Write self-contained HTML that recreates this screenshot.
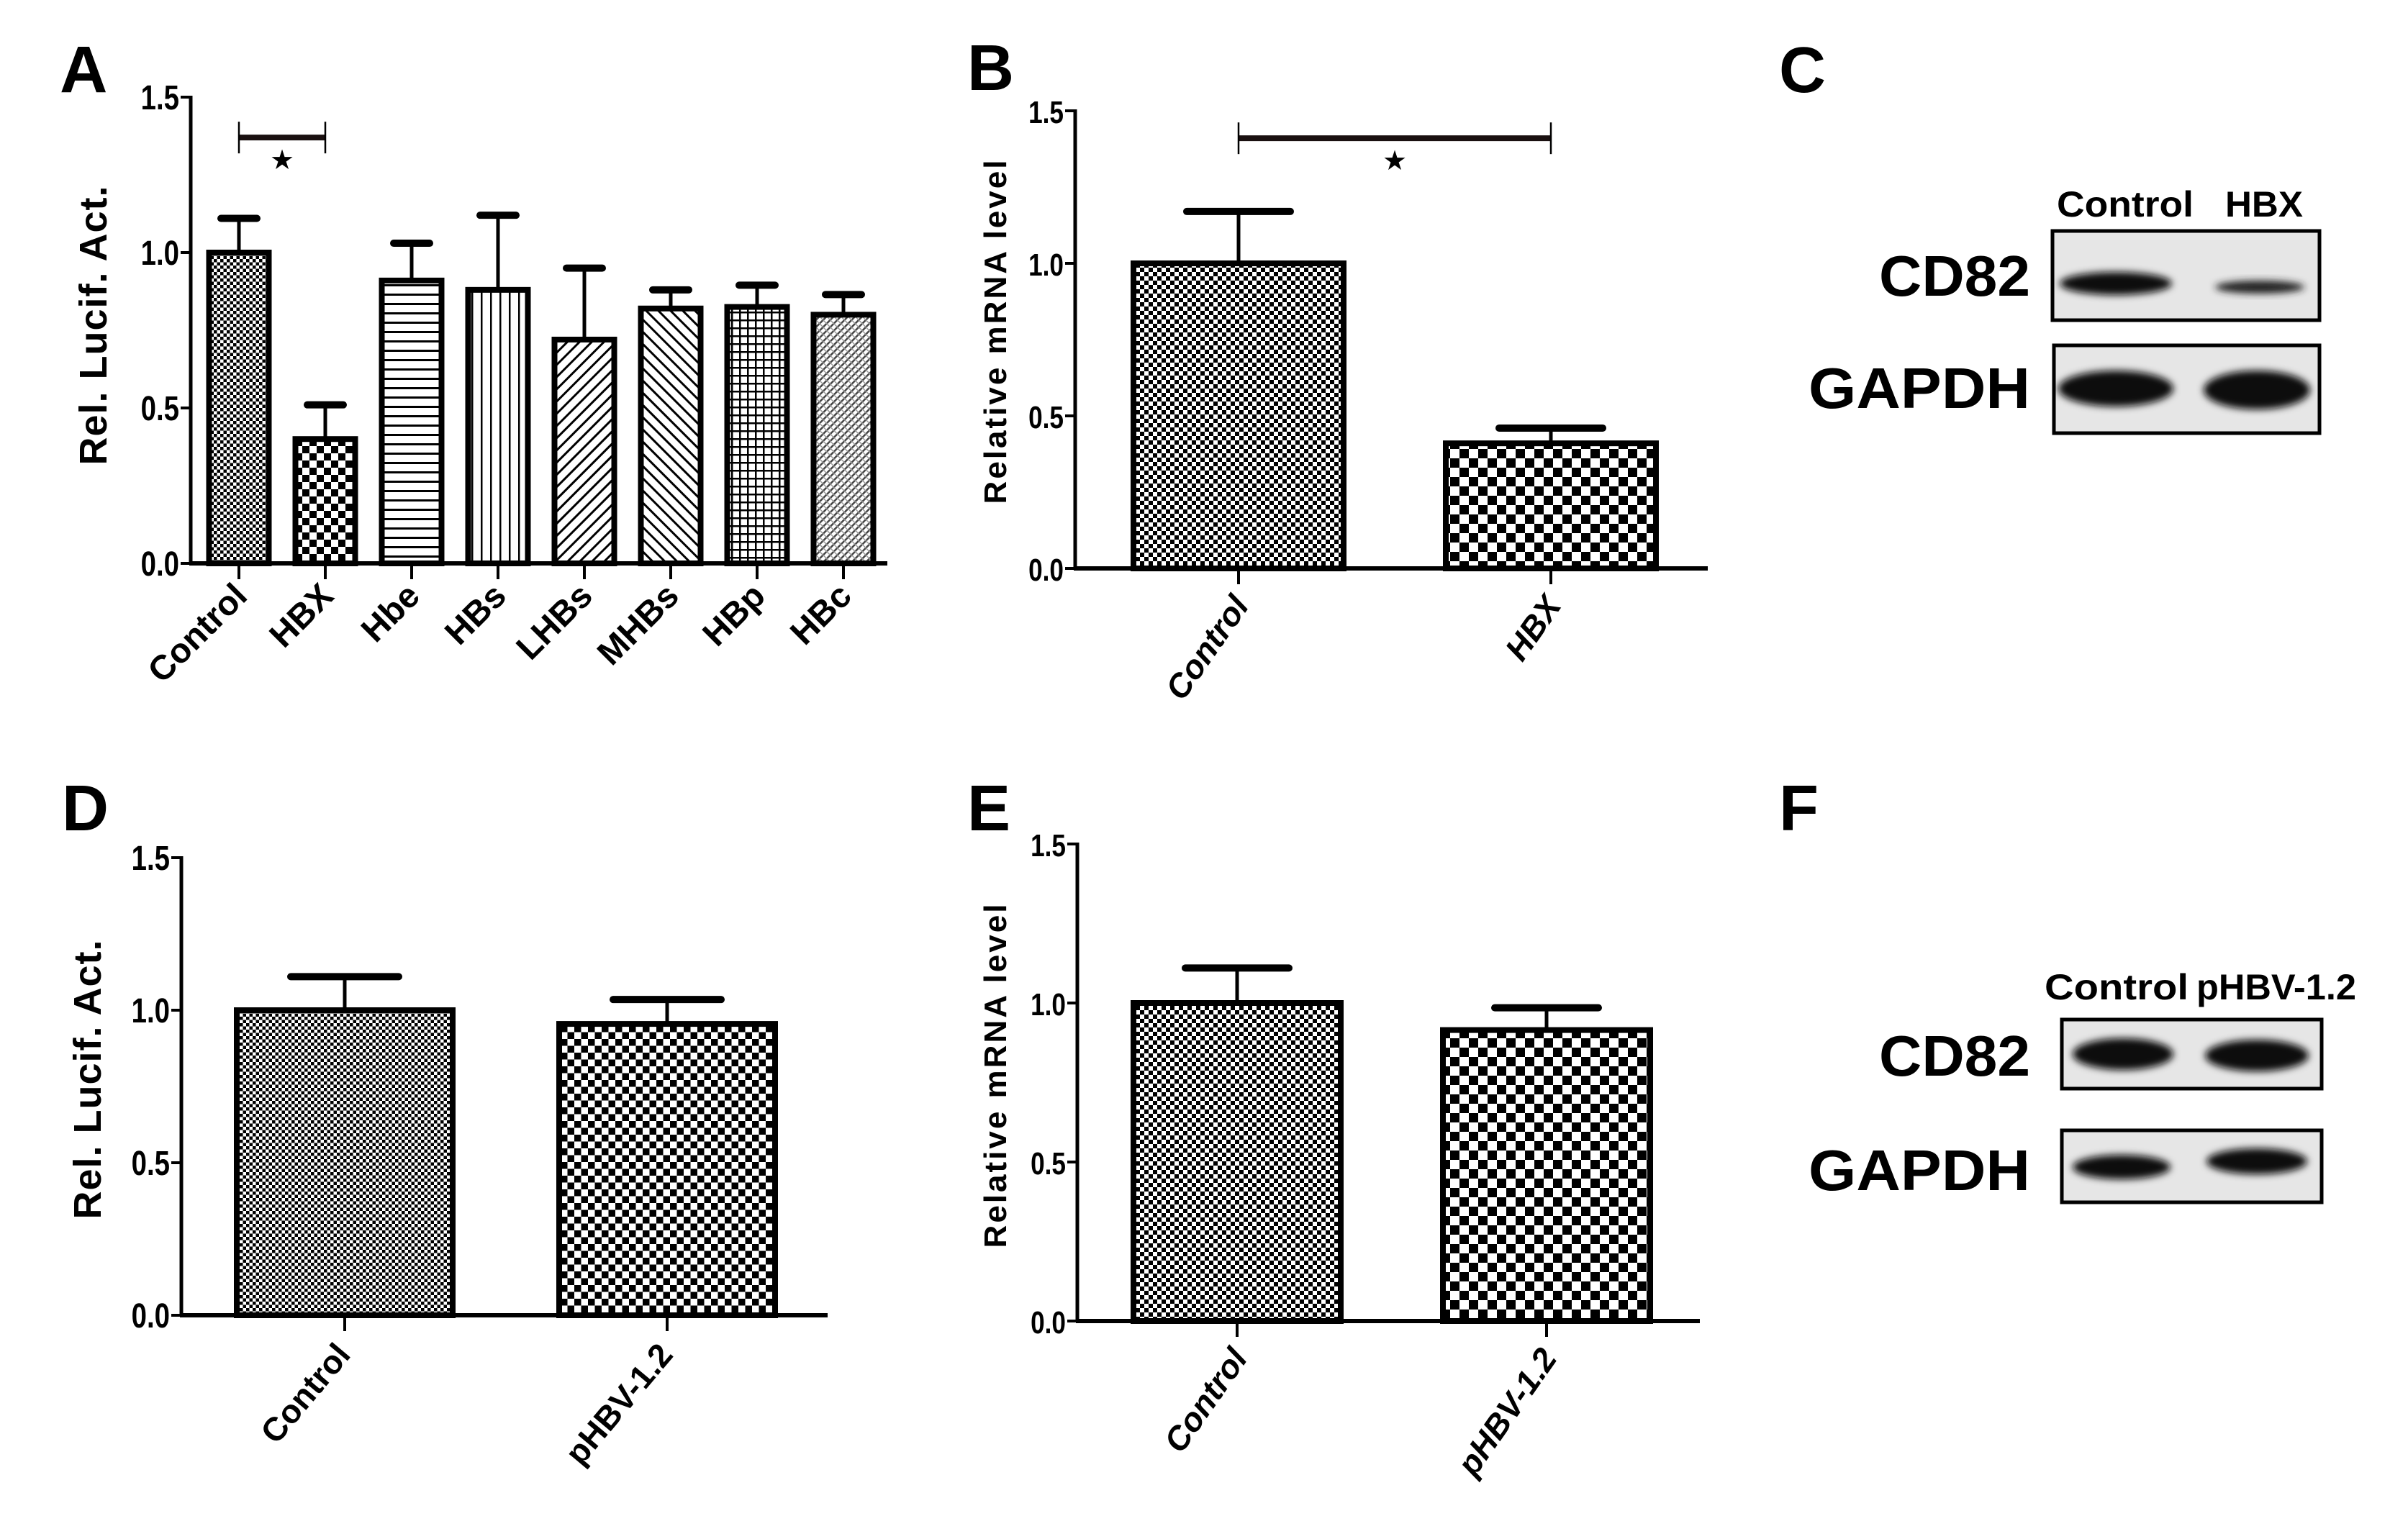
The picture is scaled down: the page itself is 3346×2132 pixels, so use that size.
<!DOCTYPE html>
<html><head><meta charset="utf-8"><style>
html,body{margin:0;padding:0;background:#fff}
svg{display:block}
text{font-family:"Liberation Sans",Arial,sans-serif;fill:#000}
</style></head><body>
<svg id="fig" xmlns="http://www.w3.org/2000/svg" width="3346" height="2132" viewBox="0 0 3346 2132">
<defs>
<pattern id="pFine" width="9" height="9" patternUnits="userSpaceOnUse"><rect width="9" height="9" fill="#fff"/><rect width="4.5" height="4.5" fill="#000"/><rect x="4.5" y="4.5" width="4.5" height="4.5" fill="#000"/></pattern>
<pattern id="pFine2" width="12" height="12" patternUnits="userSpaceOnUse"><rect width="12" height="12" fill="#fff"/><rect width="6" height="6" fill="#000"/><rect x="6" y="6" width="6" height="6" fill="#000"/></pattern>
<pattern id="pBig" width="20" height="20" patternUnits="userSpaceOnUse"><rect width="20" height="20" fill="#fff"/><rect width="10" height="10" fill="#000"/><rect x="10" y="10" width="10" height="10" fill="#000"/></pattern>
<pattern id="pBig2" width="26" height="26" patternUnits="userSpaceOnUse"><rect width="26" height="26" fill="#fff"/><rect width="13" height="13" fill="#000"/><rect x="13" y="13" width="13" height="13" fill="#000"/></pattern>
<pattern id="pMid" width="19" height="19" patternUnits="userSpaceOnUse"><rect width="19" height="19" fill="#fff"/><rect width="9.5" height="9.5" fill="#000"/><rect x="9.5" y="9.5" width="9.5" height="9.5" fill="#000"/></pattern>
<pattern id="pH" width="13" height="13" patternUnits="userSpaceOnUse"><rect width="13" height="13" fill="#fff"/><rect y="5" width="13" height="3" fill="#000"/></pattern>
<pattern id="pV" width="13" height="13" patternUnits="userSpaceOnUse"><rect width="13" height="13" fill="#fff"/><rect x="5" width="2.5" height="13" fill="#000"/></pattern>
<pattern id="pD1" width="12" height="12" patternUnits="userSpaceOnUse" patternTransform="rotate(45)"><rect width="12" height="12" fill="#fff"/><rect x="4" width="3" height="12" fill="#000"/></pattern>
<pattern id="pD2" width="12" height="12" patternUnits="userSpaceOnUse" patternTransform="rotate(-45)"><rect width="12" height="12" fill="#fff"/><rect x="4" width="3" height="12" fill="#000"/></pattern>
<pattern id="pGrid" width="11" height="11" patternUnits="userSpaceOnUse"><rect width="11" height="11" fill="#fff"/><rect y="4" width="11" height="2.5" fill="#000"/><rect x="4" width="2.5" height="11" fill="#000"/></pattern>
<pattern id="pD3" width="7" height="7" patternUnits="userSpaceOnUse" patternTransform="rotate(45)"><rect width="7" height="7" fill="#fff"/><rect x="2" width="2.5" height="7" fill="#444"/><rect y="2" width="7" height="1.5" fill="#999"/></pattern>
<filter id="blur" x="-20%" y="-50%" width="140%" height="200%"><feGaussianBlur stdDeviation="5"/></filter>
</defs>

<text x="83" y="128" font-size="92" font-weight="bold">A</text>
<text x="1344" y="125" font-size="90" font-weight="bold">B</text>
<text x="2472" y="128" font-size="90" font-weight="bold">C</text>
<text x="86" y="1154" font-size="90" font-weight="bold">D</text>
<text x="1344" y="1154" font-size="90" font-weight="bold">E</text>
<text x="2472" y="1154" font-size="90" font-weight="bold">F</text>

<g>
<text x="2858" y="301" font-size="50" font-weight="bold" textLength="190" lengthAdjust="spacingAndGlyphs">Control</text>
<text x="3092" y="301" font-size="50" font-weight="bold" textLength="108" lengthAdjust="spacingAndGlyphs">HBX</text>
<text x="2611" y="411" font-size="80" font-weight="bold" textLength="210" lengthAdjust="spacingAndGlyphs">CD82</text>
<text x="2513" y="567" font-size="80" font-weight="bold" textLength="308" lengthAdjust="spacingAndGlyphs">GAPDH</text>
<rect x="2852" y="321" width="371" height="124" fill="#e6e6e6" stroke="#000" stroke-width="5"/>
<ellipse cx="2940" cy="394" rx="78" ry="16" fill="#111" filter="url(#blur)"/>
<ellipse cx="3140" cy="399" rx="62" ry="9" fill="#222" filter="url(#blur)"/>
<rect x="2854" y="480" width="369" height="122" fill="#e6e6e6" stroke="#000" stroke-width="5"/>
<ellipse cx="2940" cy="540" rx="80" ry="25" fill="#0a0a0a" filter="url(#blur)"/>
<ellipse cx="3136" cy="542" rx="74" ry="27" fill="#0a0a0a" filter="url(#blur)"/>
</g>

<g>
<text x="2841" y="1389" font-size="50" font-weight="bold" textLength="200" lengthAdjust="spacingAndGlyphs">Control</text>
<text x="3052" y="1389" font-size="50" font-weight="bold" textLength="222" lengthAdjust="spacingAndGlyphs">pHBV-1.2</text>
<text x="2611" y="1495" font-size="80" font-weight="bold" textLength="210" lengthAdjust="spacingAndGlyphs">CD82</text>
<text x="2513" y="1654" font-size="80" font-weight="bold" textLength="308" lengthAdjust="spacingAndGlyphs">GAPDH</text>
<rect x="2865" y="1417" width="361" height="96" fill="#e6e6e6" stroke="#000" stroke-width="5"/>
<ellipse cx="2950" cy="1465" rx="70" ry="22" fill="#0a0a0a" filter="url(#blur)"/>
<ellipse cx="3136" cy="1467" rx="72" ry="22" fill="#0a0a0a" filter="url(#blur)"/>
<rect x="2865" y="1571" width="361" height="100" fill="#e6e6e6" stroke="#000" stroke-width="5"/>
<ellipse cx="2948" cy="1622" rx="68" ry="17" fill="#111" filter="url(#blur)"/>
<ellipse cx="3136" cy="1614" rx="70" ry="18" fill="#111" filter="url(#blur)"/>
</g>
</svg>
<script>
// ---- Panel A data ----
const aCategories = ["Control","HBX","Hbe","HBs","LHBs","MHBs","HBp","HBc"];
const aValues = [1.0,0.40,0.91,0.88,0.72,0.82,0.825,0.80];
const aErrors = [0.11,0.11,0.12,0.24,0.23,0.06,0.07,0.065];
// ---- Panel B data ----
const bCategories = ["Control","HBX"];
const bValues = [1.0,0.41];
const bErrors = [0.17,0.05];
// ---- Panel D data ----
const dCategories = ["Control","pHBV-1.2"];
const dValues = [1.0,0.955];
const dErrors = [0.11,0.08];
// ---- Panel E data ----
const eCategories = ["Control","pHBV-1.2"];
const eValues = [1.0,0.915];
const eErrors = [0.11,0.07];
// shared ticks
const yTicks = [0,0.5,1.0,1.5];
const yTickLabels = ["0.0","0.5","1.0","1.5"];

const NS = "http://www.w3.org/2000/svg";
const fig = document.getElementById("fig");
function mk(tag, attrs, parent){
  const e = document.createElementNS(NS, tag);
  for (const k in attrs) e.setAttribute(k, attrs[k]);
  parent.appendChild(e);
  return e;
}

function chart(id, cfg, cats, vals, errs){
  const g = mk("g", {}, fig);
  
  
  const y = v => cfg.y0 - (v/1.5)*(cfg.y0-cfg.y15);
  const x = i => cfg.first + i*cfg.pitch;
  const ya = mk("line", {x1:cfg.ax, y1:cfg.y15-2, x2:cfg.ax, y2:cfg.y0, stroke:"#000","stroke-width":5}, g);
  
  
  yTicks.forEach((t,i)=>{
    mk("line", {x1:cfg.ax-14, y1:y(t), x2:cfg.ax, y2:y(t), stroke:"#000","stroke-width":4}, g);
    const tl = mk("text", {x:cfg.ax-16, y:y(t)+17, "font-size":cfg.tickFs, "font-weight":"bold","text-anchor":"end", transform:`translate(${cfg.ax-16},0) scale(0.8,1) translate(${-(cfg.ax-16)},0)`}, g);
    tl.textContent = yTickLabels[i];
    
    
  });
  const tt = mk("text", {x:0, y:0, "font-size":cfg.titleFs, "font-weight":"bold","text-anchor":"middle", "letter-spacing":cfg.ls, transform:`translate(${cfg.tx},${cfg.ty}) rotate(-90)`}, g);
  tt.textContent = cfg.title;
  
  
  cats.forEach((c,i)=>{
    const cx = x(i), top = y(vals[i]);
    const bar = mk("rect", {x:cx-cfg.bw/2, y:top, width:cfg.bw, height:cfg.y0-top, fill:`url(#${cfg.pats[i]})`, stroke:"#000","stroke-width":8}, g);
    
    
    const et = y(vals[i]+errs[i]);
    const eb = mk("line", {x1:cx, y1:top, x2:cx, y2:et, stroke:"#000","stroke-width":5}, g);
    
    
    mk("line", {x1:cx-cfg.cap, y1:et, x2:cx+cfg.cap, y2:et, stroke:"#000","stroke-width":10,"stroke-linecap":"round"}, g);
    mk("line", {x1:cx, y1:cfg.y0, x2:cx, y2:cfg.y0+22, stroke:"#000","stroke-width":4}, g);
    const lx = cx + cfg.lblDx, ly = cfg.y0 + cfg.lblDy;
    const lab = mk("text", {x:0, y:0, "font-size":cfg.lblFs, "font-weight":"bold","text-anchor":"end",
      "font-style":cfg.italic?"italic":"normal", transform:`translate(${lx},${ly}) rotate(${cfg.rot})`}, g);
    lab.textContent = c;
    
    
  });
  const xa = mk("line", {x1:cfg.ax-2, y1:cfg.y0, x2:cfg.xend, y2:cfg.y0, stroke:"#000","stroke-width":6}, g);
  
  
  if (cfg.sig){
    const s = cfg.sig, by = y(s.level);
    const br = mk("line", {x1:x(s.a), y1:by, x2:x(s.b), y2:by, stroke:"#1a1010","stroke-width":8}, g);
    
    
    [s.a,s.b].forEach(k=>mk("line", {x1:x(k), y1:by-22, x2:x(k), y2:by+22, stroke:"#000","stroke-width":2.5}, g));
    const st = mk("text", {x:(x(s.a)+x(s.b))/2, y:by+44, "font-size":38,"text-anchor":"middle"}, g);
    st.textContent = "★";
    
    
  }
}

chart("chart-a", {ax:265, y15:135, y0:783, xend:1233, first:332, pitch:120, bw:83, cap:25,
  tickFs:48, titleFs:54, ls:1, tx:148, ty:452, title:"Rel. Lucif. Act.",
  pats:["pFine","pBig","pH","pV","pD1","pD2","pGrid","pD3"],
  lblDx:14, lblDy:48, lblFs:48, rot:-45, italic:false,
  sig:{a:0,b:1,level:1.37}}, aCategories, aValues, aErrors);

chart("chart-b", {ax:1494, y15:154, y0:790, xend:2373, first:1721, pitch:434, bw:292, cap:72,
  tickFs:44, titleFs:44, ls:3, tx:1398, ty:460, title:"Relative mRNA level",
  pats:["pFine2","pBig2"],
  lblDx:16, lblDy:52, lblFs:46, rot:-55, italic:true,
  sig:{a:0,b:1,level:1.41}}, bCategories, bValues, bErrors);

chart("chart-d", {ax:252, y15:1192, y0:1828, xend:1150, first:479, pitch:448, bw:300, cap:75,
  tickFs:48, titleFs:54, ls:1, tx:140, ty:1500, title:"Rel. Lucif. Act.",
  pats:["pFine","pMid"],
  lblDx:10, lblDy:56, lblFs:46, rot:-50, italic:false}, dCategories, dValues, dErrors);

chart("chart-e", {ax:1497, y15:1173, y0:1836, xend:2362, first:1719, pitch:430, bw:288, cap:72,
  tickFs:44, titleFs:44, ls:3, tx:1398, ty:1494, title:"Relative mRNA level",
  pats:["pFine2","pBig2"],
  lblDx:16, lblDy:52, lblFs:46, rot:-55, italic:true}, eCategories, eValues, eErrors);
</script>
</body></html>
